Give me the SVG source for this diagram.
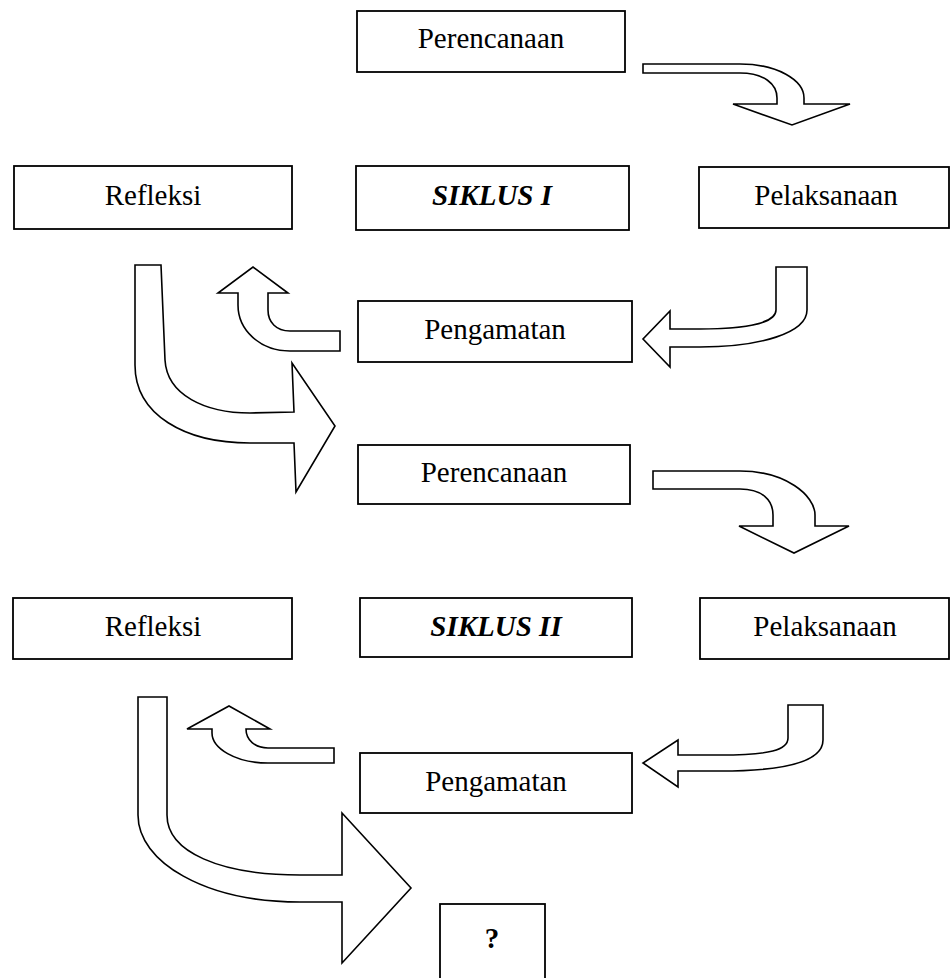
<svg xmlns="http://www.w3.org/2000/svg" width="951" height="978" viewBox="0 0 951 978">
<style>
.box{fill:#fff;stroke:#000;stroke-width:1.8}
.arr{fill:#fff;stroke:#000;stroke-width:1.6;stroke-linejoin:miter}
text{font-family:"Liberation Serif","Times New Roman",serif;font-size:29px;text-anchor:middle;fill:#000}
.b{font-weight:bold;font-style:italic}
.q{font-weight:bold}
</style>
<rect width="951" height="978" fill="#fff"/>
<g id="connectors">
<path class="arr" d="M643,64 L740,64 C777,64 804,80 804,98 L804,104 L850,104 L792,125 L733,104 L777,104 L777,98 C777,84 764,73 740,73 L643,73 Z"/>
<path class="arr" d="M776,267 L807,267 L807,310 C807,333 760,347 700,347 L670,347 L670,367 L643,339 L670,311 L670,329 L700,329 C750,329 776,322 776,310 Z"/>
<path class="arr" d="M340,331 L340,351 L290,351 C260,351 238,330 238,305 L238,293 L218,293 L253,267 L288,293 L268,293 L268,310 C268,322 276,331 290,331 Z"/>
<path class="arr" d="M135,265 L161,265 L165,360 C167,395 205,413 250,413 L294,412 L292,363 L335,426 L296,492 L294,443 L250,443 C185,443 135,415 135,365 Z"/>
<path class="arr" d="M653,471 L740,471 C785,471 815,495 815,515 L815,526 L849,526 L794,553 L739,526 L773,526 L773,515 C773,500 762,489 740,489 L653,489 Z"/>
<path class="arr" d="M788,705 L823,705 L823,740 C823,760 790,771 720,771 L678,771 L678,787 L643,763 L678,740 L678,755 L720,755 C770,755 788,750 788,738 Z"/>
<path class="arr" d="M334,748 L334,763 L268,763 C235,763 212,748 212,733 L212,729 L187,729 L229,706 L270,729 L246,729 C246,740 255,748 268,748 Z"/>
<path class="arr" d="M138,697 L167,697 L167,815 C167,852 220,875 300,875 L342,875 L342,813 L411,888 L342,963 L342,902 L300,902 C205,902 138,862 138,815 Z"/>
</g>
<g id="perencanaan1"><rect class="box" x="357" y="11" width="268" height="61"/><text x="491" y="48">Perencanaan</text></g>
<g id="refleksi1"><rect class="box" x="14" y="166" width="278" height="63"/><text x="153" y="205">Refleksi</text></g>
<g id="siklus1"><rect class="box" x="356" y="166" width="273" height="64"/><text class="b" x="492" y="205">SIKLUS I</text></g>
<g id="pelaksanaan1"><rect class="box" x="699" y="167" width="250" height="61"/><text x="826" y="205">Pelaksanaan</text></g>
<g id="pengamatan1"><rect class="box" x="358" y="301" width="274" height="61"/><text x="495" y="339">Pengamatan</text></g>
<g id="perencanaan2"><rect class="box" x="358" y="445" width="272" height="59"/><text x="494" y="482">Perencanaan</text></g>
<g id="refleksi2"><rect class="box" x="13" y="598" width="279" height="61"/><text x="153" y="636">Refleksi</text></g>
<g id="siklus2"><rect class="box" x="360" y="598" width="272" height="59"/><text class="b" x="496" y="636">SIKLUS II</text></g>
<g id="pelaksanaan2"><rect class="box" x="700" y="598" width="249" height="61"/><text x="825" y="636">Pelaksanaan</text></g>
<g id="pengamatan2"><rect class="box" x="360" y="753" width="272" height="60"/><text x="496" y="791">Pengamatan</text></g>
<g id="tanya"><rect class="box" x="440" y="904" width="105" height="80"/><text class="q" x="492" y="948">?</text></g>
</svg>
